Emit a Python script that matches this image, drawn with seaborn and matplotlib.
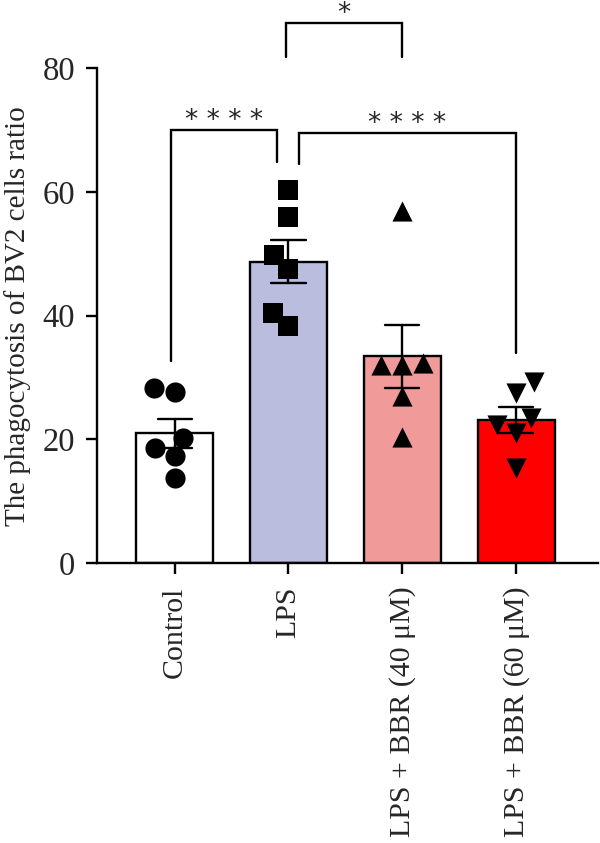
import pandas as pd
import matplotlib.pyplot as plt
import seaborn as sns

# ========= 1) DATA =========
groups = ["Control", "LPS", "LPS + BBR (40 μM)", "LPS + BBR (60 μM)"]
control = [28.3, 27.6, 20.3, 18.6, 17.3, 13.7]
lps = [60.3, 55.9, 49.8, 47.5, 40.5, 38.3]
bbr40 = [57.0, 32.3, 32.0, 32.0, 27.0, 20.4]
bbr60 = [29.3, 27.5, 23.4, 22.3, 21.0, 15.3]

bar_colors = ["#FFFFFF", "#BBBDDF", "#F09A9A", "#FF0000"]
markers = ["o", "s", "^", "v"]

# significance brackets: (x_left, x_right, y_left_end, y_right_end, y_top, label)
brackets = [
    (-0.03, 0.90, 32.6, 64.9, 70.1, "* * * *"),
    (1.09, 3.00, 64.6, 33.9, 69.6, "* * * *"),
    (0.98, 2.00, 81.9, 81.9, 87.4, "*"),
]

df = pd.DataFrame({
    "group": [g for g, vals in zip(groups, [control, lps, bbr40, bbr60]) for _ in vals],
    "value": control + lps + bbr40 + bbr60,
})

# ========= 2) PLOT =========
sns.set_style("ticks")
plt.rcParams["font.family"] = ["Liberation Serif", "DejaVu Serif"]

fig = plt.figure(figsize=(6, 8.43), dpi=100)
ax = fig.add_axes([0.162, 0.332, 0.835, 0.587])

sns.barplot(
    data=df, x="group", y="value", hue="group", order=groups, hue_order=groups,
    palette=bar_colors, legend=False, width=0.68,
    errorbar="se", capsize=0.3,
    err_kws={"color": "black", "linewidth": 1.7},
    edgecolor="black", linewidth=1.7, saturation=1, ax=ax,
)

for g, m in zip(groups, markers):
    sns.swarmplot(
        data=df[df["group"] == g], x="group", y="value", order=groups,
        marker=m, color="black", size=14.5, linewidth=0, ax=ax,
    )

for line in ax.lines:
    line.set_zorder(5)

# brackets
for x0, x1, y0, y1, top, label in brackets:
    ax.plot([x0, x0, x1, x1], [y0, top, top, y1], color="black", lw=1.7,
            clip_on=False, solid_joinstyle="miter")
    ax.text((x0 + x1) / 2, top + 0.3, label, ha="center", va="baseline",
            fontsize=19, family="DejaVu Sans")

ax.set_ylim(0, 80)
ax.set_xlim(-0.68, 3.72)
ax.set_yticks([0, 20, 40, 60, 80])
ax.set_xlabel("")
ax.set_ylabel("The phagocytosis of BV2 cells ratio", fontsize=21, labelpad=8)
ax.tick_params(axis="y", labelsize=23.5, width=1.7, length=8, color="black", pad=8)
ax.tick_params(axis="x", labelsize=21.5, width=1.7, length=8, color="black",
               labelrotation=90, pad=9)
for lab in ax.get_xticklabels():
    lab.set_va("top")
sns.despine(ax=ax)
for s in ["left", "bottom"]:
    ax.spines[s].set_linewidth(1.7)
    ax.spines[s].set_color("black")

fig.savefig("out.png", dpi=100)
